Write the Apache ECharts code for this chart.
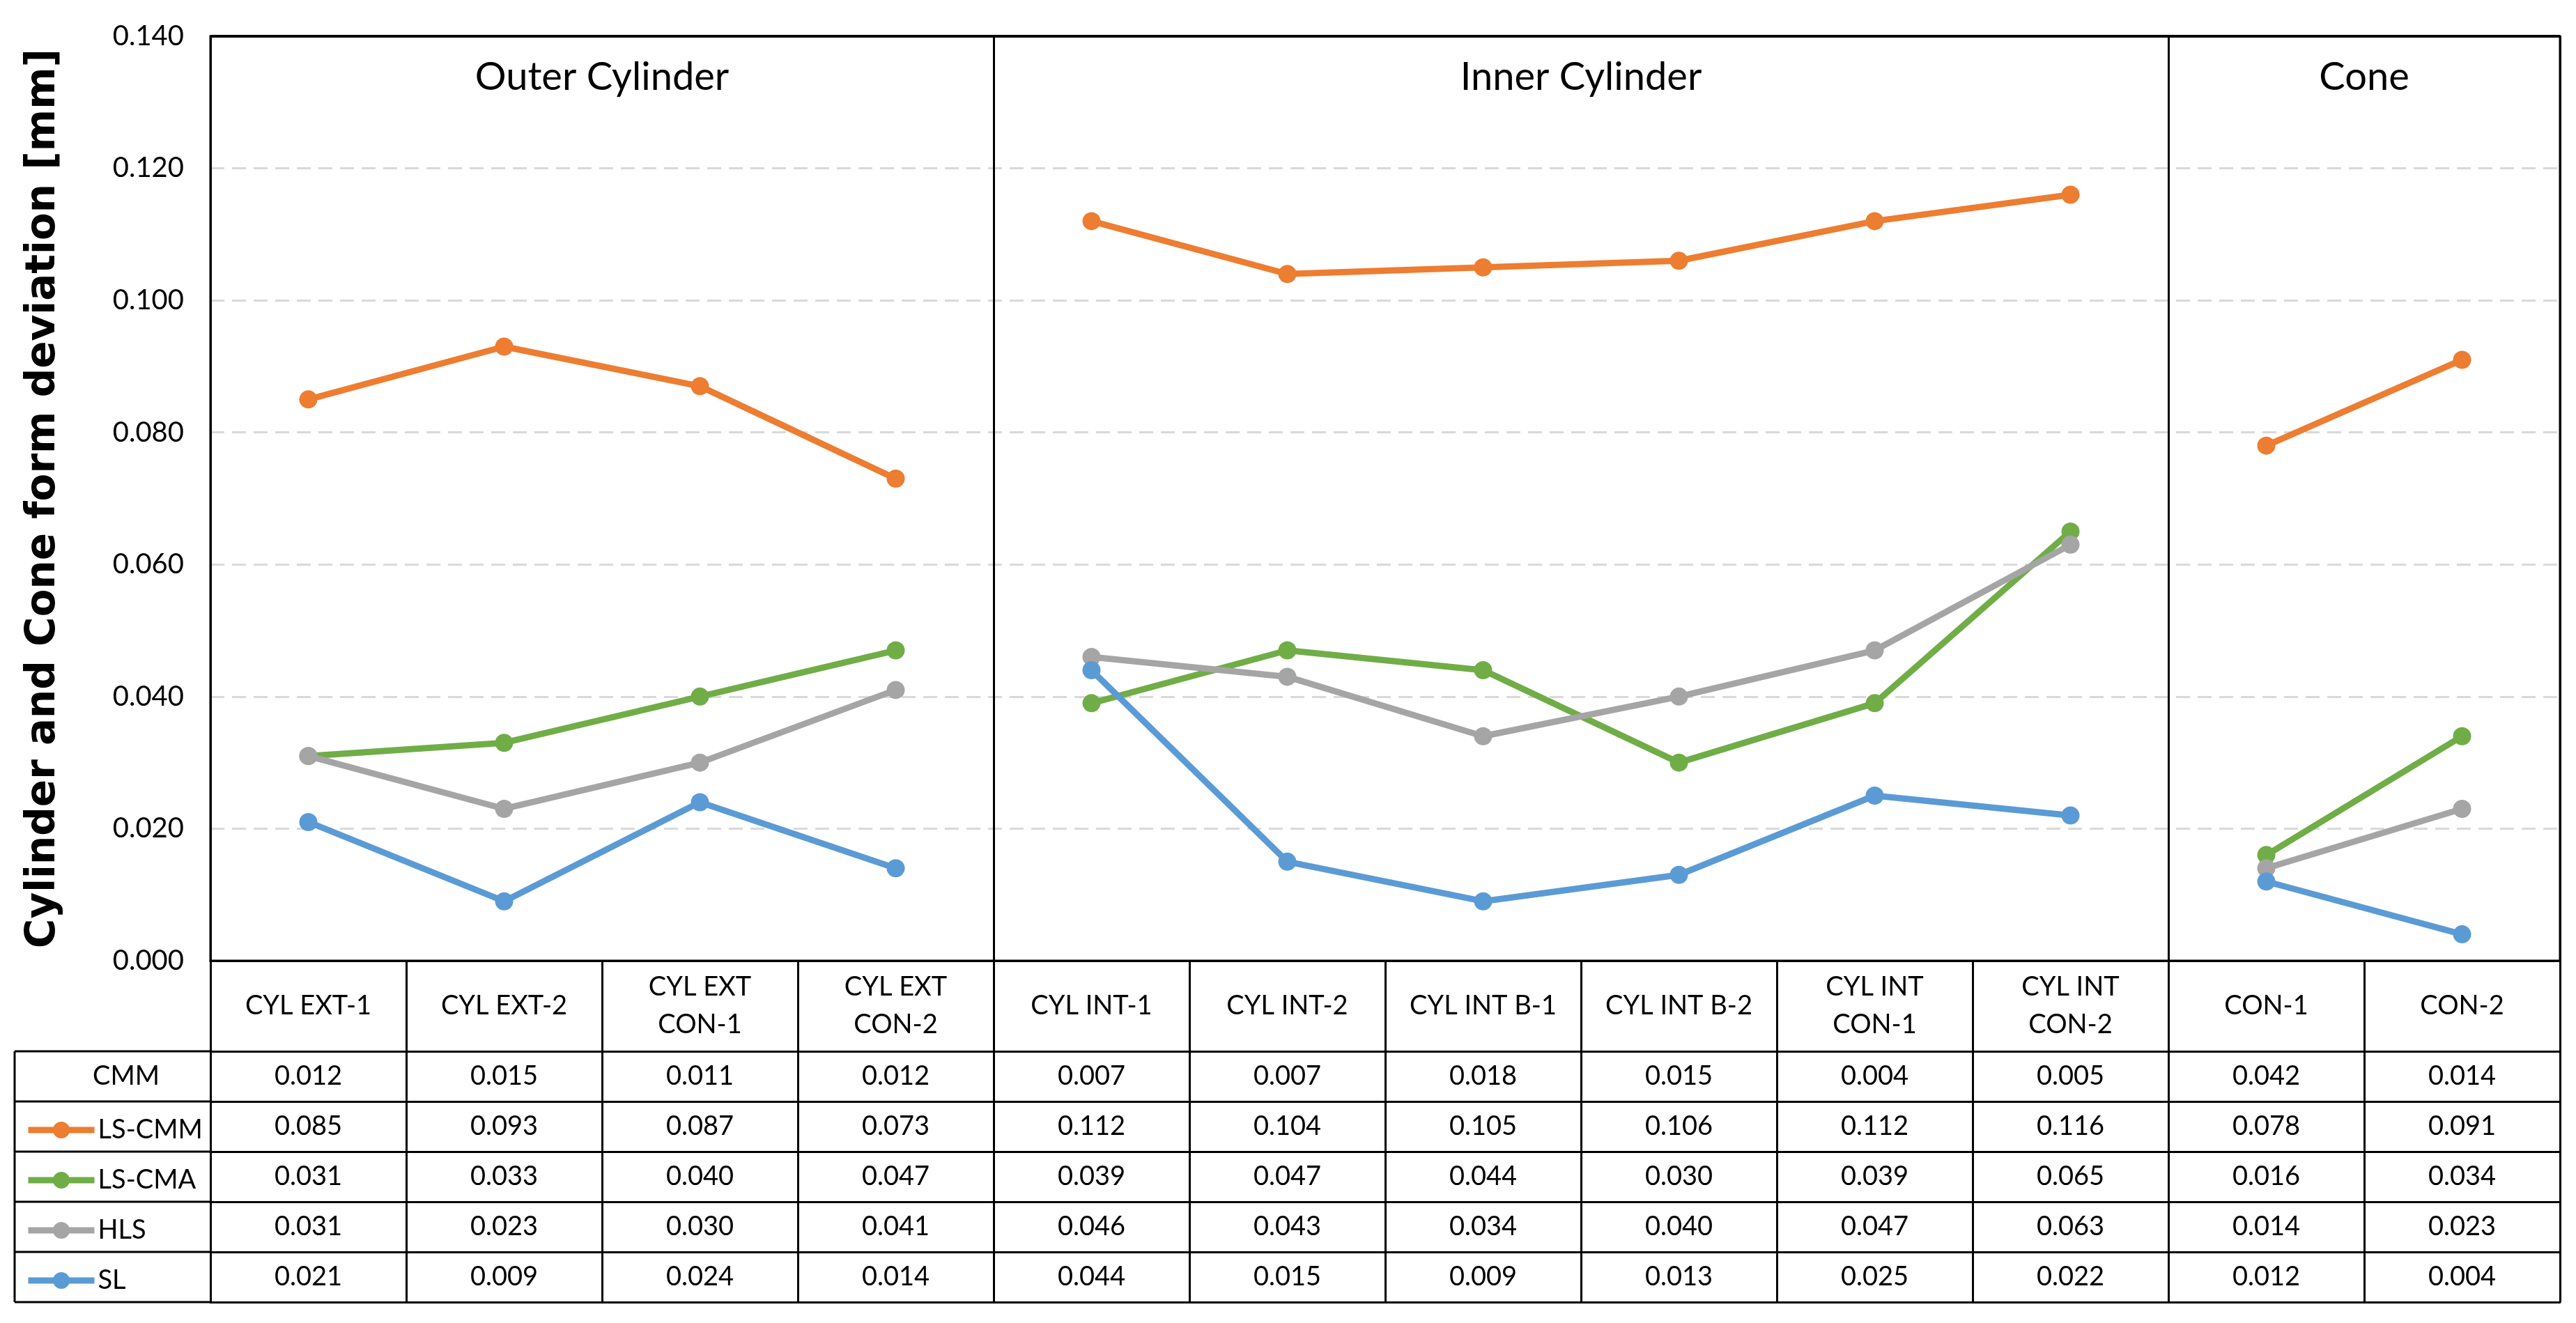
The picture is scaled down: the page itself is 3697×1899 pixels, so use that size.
<!DOCTYPE html>
<html>
<head>
<meta charset="utf-8">
<script src="https://cdn.jsdelivr.net/npm/echarts@6/dist/echarts.min.js"></script>
<style>html,body{margin:0;padding:0;background:#fff}#c{width:3697px;height:1899px}</style>
</head>
<body>
<div id="c"></div>
<script>
const categories = ['CYL EXT-1','CYL EXT-2','CYL EXT\nCON-1','CYL EXT\nCON-2','CYL INT-1','CYL INT-2','CYL INT B-1','CYL INT B-2','CYL INT\nCON-1','CYL INT\nCON-2','CON-1','CON-2'];
const sectionNames = ['Outer Cylinder','Inner Cylinder','Cone'];
const sectionStarts = [0, 4, 10];
const sectionEnds = [3, 9, 11];
const cmm   = [0.012,0.015,0.011,0.012,0.007,0.007,0.018,0.015,0.004,0.005,0.042,0.014];
const lsCmm = [0.085,0.093,0.087,0.073,0.112,0.104,0.105,0.106,0.112,0.116,0.078,0.091];
const lsCma = [0.031,0.033,0.040,0.047,0.039,0.047,0.044,0.030,0.039,0.065,0.016,0.034];
const hls   = [0.031,0.023,0.030,0.041,0.046,0.043,0.034,0.040,0.047,0.063,0.014,0.023];
const sl    = [0.021,0.009,0.024,0.014,0.044,0.015,0.009,0.013,0.025,0.022,0.012,0.004];
const seriesNames = ['LS-CMM','LS-CMA','HLS','SL'];
const seriesValues = [lsCmm, lsCma, hls, sl];
const seriesColors = ['#ED7D31','#70AD47','#A5A5A5','#5B9BD5'];
const tableRowNames = ['CMM','LS-CMM','LS-CMA','HLS','SL'];
const tableRowValues = [cmm, lsCmm, lsCma, hls, sl];
const yMin = 0, yMax = 0.14, yStep = 0.02;

// layout
const W = 3697, H = 1899;
const gridLeft = 302, gridRight = 23, gridTop = 52, plotBottom = 1379;
const catRowH = 130, rowH = 72, tableLeft = 21;
const colW = (W - gridLeft - gridRight) / categories.length;
const FONT = 'Lato';
const LW = 3;

const chart = echarts.init(document.getElementById('c'));

const series = [];
seriesNames.forEach((name, k) => {
  sectionStarts.forEach((s, j) => {
    series.push({
      type: 'line', name: name, xAxisIndex: 0, yAxisIndex: 0,
      data: seriesValues[k].map((v, i) => (i >= s && i <= sectionEnds[j]) ? v : '-'),
      symbol: 'circle', symbolSize: 26,
      lineStyle: { width: 9, color: seriesColors[k] },
      itemStyle: { color: seriesColors[k] },
      z: 3 + k, animation: false
    });
  });
});

const xAxes = [{
  type: 'category', data: categories, gridIndex: 0, position: 'bottom', boundaryGap: true,
  axisLine: { show: true, lineStyle: { color: '#000', width: LW } },
  axisTick: { show: true, length: catRowH, interval: 0, lineStyle: { color: '#000', width: LW } },
  axisLabel: { interval: 0, margin: catRowH / 2, verticalAlign: 'middle', fontSize: 38, lineHeight: 54, fontFamily: FONT, color: '#000' },
  splitLine: { show: true, interval: (idx) => sectionStarts.indexOf(idx) > 0, lineStyle: { color: '#000', width: LW } }
}];
tableRowValues.forEach((vals, r) => {
  xAxes.push({
    type: 'category', data: categories, gridIndex: 0, position: 'bottom', boundaryGap: true,
    offset: catRowH + r * rowH,
    axisLine: { show: true, lineStyle: { color: '#000', width: LW } },
    axisTick: { show: true, length: rowH, interval: 0, lineStyle: { color: '#000', width: LW } },
    axisLabel: { interval: 0, margin: rowH / 2, verticalAlign: 'middle', fontSize: 38, fontFamily: FONT, color: '#000',
      formatter: (v, idx) => vals[idx].toFixed(3) },
    splitLine: { show: false }
  });
});
xAxes.push({
  type: 'category', data: categories, gridIndex: 0, position: 'bottom',
  offset: catRowH + tableRowValues.length * rowH,
  axisLine: { show: true, lineStyle: { color: '#000', width: LW } },
  axisTick: { show: false }, axisLabel: { show: false }, splitLine: { show: false }
});

const graphics = [];
for (let r = 0; r <= tableRowNames.length; r++) {
  const y = plotBottom + catRowH + r * rowH;
  graphics.push({ type: 'line', shape: { x1: tableLeft, y1: y, x2: gridLeft, y2: y }, style: { stroke: '#000', lineWidth: LW } });
}
graphics.push({ type: 'line', shape: { x1: tableLeft, y1: plotBottom + catRowH, x2: tableLeft, y2: plotBottom + catRowH + tableRowNames.length * rowH }, style: { stroke: '#000', lineWidth: LW } });
graphics.push({ type: 'line', z: 100, shape: { x1: gridLeft, y1: gridTop, x2: W - gridRight, y2: gridTop }, style: { stroke: '#000', lineWidth: 4 } });
graphics.push({ type: 'text', x: 133, y: plotBottom + catRowH + rowH / 2, style: { text: tableRowNames[0], font: '38px ' + FONT, fill: '#000', textAlign: 'left', textVerticalAlign: 'middle' } });
sectionNames.forEach((n, j) => {
  const cx = gridLeft + colW * (sectionStarts[j] + sectionEnds[j] + 1) / 2;
  graphics.push({ type: 'text', x: cx, y: 111, style: { text: n, font: '56px ' + FONT, fill: '#000', textAlign: 'center', textVerticalAlign: 'middle' } });
});

chart.setOption({
  animation: false,
  backgroundColor: '#fff',
  grid: { left: gridLeft, right: gridRight, top: gridTop, bottom: H - plotBottom, show: true, borderColor: '#000', borderWidth: LW, containLabel: false },
  legend: {
    data: seriesNames, orient: 'vertical', left: 31, top: plotBottom + catRowH + rowH + rowH / 2 - 20,
    itemWidth: 95, itemHeight: 30, itemGap: rowH - 40,
    lineStyle: { width: 9 },
    textStyle: { fontSize: 38, lineHeight: 40, fontFamily: FONT, color: '#000' },
    selectedMode: false
  },
  xAxis: xAxes,
  yAxis: {
    type: 'value', min: yMin, max: yMax, interval: yStep,
    name: 'Cylinder and Cone form deviation [mm]', nameLocation: 'middle', nameRotate: 90, nameGap: 210,
    nameTextStyle: { fontFamily: 'DejaVu Sans', fontWeight: 'bold', fontSize: 58, color: '#000' },
    axisLine: { show: true, lineStyle: { color: '#000', width: LW } },
    axisTick: { show: false },
    axisLabel: { fontSize: 40, fontFamily: FONT, color: '#000', margin: 38, formatter: v => v.toFixed(3) },
    splitLine: { show: true, lineStyle: { color: '#D9D9D9', width: 3, type: [20, 11] } }
  },
  series: series,
  graphic: graphics
});
</script>
</body>
</html>
